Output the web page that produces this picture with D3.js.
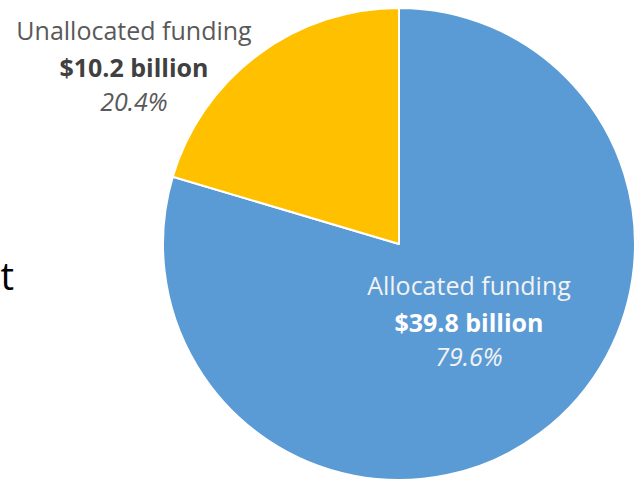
<!DOCTYPE html>
<html>
<head>
<meta charset="utf-8">
<script src="https://cdn.jsdelivr.net/npm/d3@7"></script>
<style>
  body { margin: 0; background: #fff; }
  svg { display: block; }
  text { font-family: "Open Sans", "Noto Sans", sans-serif; }
</style>
</head>
<body>
<div class="plot"></div>
<script>
// chart data
var categories = ["Allocated funding", "Unallocated funding"];
var amounts = [39.8, 10.2];
var amountLabels = ["$39.8 billion", "$10.2 billion"];
var shareLabels = ["79.6%", "20.4%"];
var colors = ["#5b9bd5", "#ffc000"];

var width = 642, height = 481;
var cx = 399, cy = 244, radius = 236;

var svg = d3.select(".plot")
  .append("svg")
  .attr("width", width)
  .attr("height", height);

// cut off text on the left edge (from the slide)
svg.append("text")
  .attr("x", 14)
  .attr("y", 290)
  .attr("text-anchor", "end")
  .style("font-size", "38px")
  .style("fill", "#000")
  .text("t");

var pie = d3.pie()
  .sort(null)
  .value(function (d) { return d; });

var arc = d3.arc()
  .innerRadius(0)
  .outerRadius(radius);

var g = svg.append("g")
  .attr("transform", "translate(" + cx + "," + cy + ")");

g.selectAll("path")
  .data(pie(amounts))
  .enter()
  .append("path")
  .attr("d", arc)
  .style("fill", function (d, i) { return colors[i]; })
  .style("stroke", "#fff")
  .style("stroke-width", 2)
  .style("stroke-linejoin", "round");

// label positions (centre x, first baseline y)
var labelPos = [[469, 295], [134, 40]];
var textColors = [
  ["#f2f2f2", "#ffffff", "#f2f2f2"],
  ["#595959", "#404040", "#595959"]
];

categories.forEach(function (c, i) {
  var t = svg.append("text")
    .attr("text-anchor", "middle")
    .attr("x", labelPos[i][0])
    .attr("y", labelPos[i][1])
    .style("font-size", "25px");
  t.append("tspan")
    .attr("x", labelPos[i][0])
    .style("fill", textColors[i][0])
    .text(c);
  t.append("tspan")
    .attr("x", labelPos[i][0])
    .attr("dy", 37)
    .style("font-weight", "bold")
    .style("fill", textColors[i][1])
    .text(amountLabels[i]);
  t.append("tspan")
    .attr("x", labelPos[i][0])
    .attr("dy", 34)
    .style("font-style", "italic")
    .style("fill", textColors[i][2])
    .text(shareLabels[i]);
});
</script>
</body>
</html>
